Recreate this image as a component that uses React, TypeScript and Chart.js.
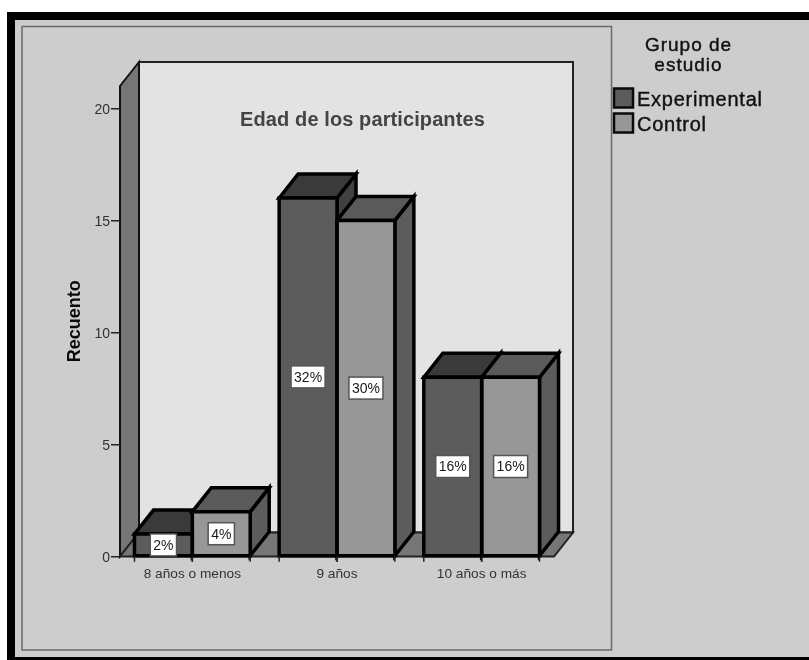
import React, { useEffect, useRef } from "react";
import { Chart, registerables } from "chart.js";

Chart.register(...registerables);

const categories = ["8 años o menos", "9 años", "10 años o más"];
const experimental = [1, 16, 8];
const control = [2, 15, 8];
const experimentalPct = ["2%", "32%", "16%"];
const controlPct = ["4%", "30%", "16%"];
const chartTitle = "Edad de los participantes";
const legendTitle = ["Grupo de", "estudio"];
const yTitle = "Recuento";

const FONT = '"Liberation Sans", Arial, sans-serif';
const DX = 19;
const DY = 24;
const faces = [
  { front: "#5c5c5c", top: "#3a3a3a", side: "#404040", labels: experimentalPct },
  { front: "#979797", top: "#5a5a5a", side: "#5c5c5c", labels: controlPct },
];

function poly(ctx: CanvasRenderingContext2D, pts: number[][], fill: string | null, stroke: string, lw: number) {
  ctx.beginPath();
  pts.forEach((p, i) => (i ? ctx.lineTo(p[0], p[1]) : ctx.moveTo(p[0], p[1])));
  ctx.closePath();
  if (fill) {
    ctx.fillStyle = fill;
    ctx.fill();
  }
  ctx.strokeStyle = stroke;
  ctx.lineWidth = lw;
  ctx.lineJoin = "miter";
  ctx.stroke();
}

const scene3d = {
  id: "scene3d",
  beforeDraw(chart: any) {
    const { ctx, width, height, chartArea: a } = chart;
    ctx.save();
    ctx.fillStyle = "#ffffff";
    ctx.fillRect(0, 0, width, height);
    ctx.fillStyle = "#000000";
    ctx.fillRect(7, 12, width - 7, height - 12);
    ctx.fillStyle = "#cdcdcd";
    ctx.fillRect(15, 20, width - 15, 637);
    ctx.strokeStyle = "#6a6a6a";
    ctx.lineWidth = 1.5;
    ctx.strokeRect(22, 26.5, 589.5, 623.5);

    const l = a.left, r = a.right, t = a.top, b = a.bottom;
    ctx.fillStyle = "#e3e3e3";
    ctx.fillRect(l + DX, t - DY, r - l, b - t);
    poly(ctx, [[l + DX, t - DY], [r + DX, t - DY], [r + DX, b - DY], [l + DX, b - DY]], null, "#222222", 2);
    poly(ctx, [[l, t], [l + DX, t - DY], [l + DX, b - DY], [l, b]], "#767676", "#111111", 2);
    poly(ctx, [[l, b], [l + DX, b - DY], [r + DX, b - DY], [r, b]], "#767676", "#222222", 2);
    ctx.restore();
  },
  beforeDatasetsDraw(chart: any) {
    const { ctx } = chart;
    ctx.save();
    categories.forEach((_, c) => {
      faces.forEach((f, d) => {
        const bar = chart.getDatasetMeta(d).data[c];
        const x0 = bar.x - bar.width / 2, x1 = bar.x + bar.width / 2;
        const y0 = bar.y, y1 = bar.base;
        poly(ctx, [[x1, y0], [x1 + DX, y0 - DY], [x1 + DX, y1 - DY], [x1, y1]], f.side, "#000000", 3.5);
        poly(ctx, [[x0, y0], [x0 + DX, y0 - DY], [x1 + DX, y0 - DY], [x1, y0]], f.top, "#000000", 3.5);
      });
    });
    ctx.restore();
  },
  afterDatasetsDraw(chart: any) {
    const { ctx } = chart;
    ctx.save();
    faces.forEach((f, d) => {
      chart.getDatasetMeta(d).data.forEach((bar: any) => {
        const x0 = bar.x - bar.width / 2, x1 = bar.x + bar.width / 2;
        poly(ctx, [[x0, bar.y], [x1, bar.y], [x1, bar.base], [x0, bar.base]], null, "#000000", 3.5);
        ctx.strokeStyle = "#222222";
        ctx.lineWidth = 1.5;
        ctx.beginPath();
        [x0, x1].forEach((x) => {
          ctx.moveTo(x, bar.base);
          ctx.lineTo(x, bar.base + 6);
        });
        ctx.stroke();
      });
    });
    faces.forEach((f, d) => {
      chart.getDatasetMeta(d).data.forEach((bar: any, c: number) => {
        const text = f.labels[c];
        const cy = (bar.y + bar.base) / 2;
        ctx.font = `14px ${FONT}`;
        const w = ctx.measureText(text).width + 6;
        const h = 22;
        ctx.fillStyle = "#ffffff";
        ctx.fillRect(bar.x - w / 2, cy - h / 2, w, h);
        ctx.strokeStyle = "#555555";
        ctx.lineWidth = 1.5;
        ctx.strokeRect(bar.x - w / 2, cy - h / 2, w, h);
        ctx.fillStyle = "#1a1a1a";
        ctx.textAlign = "center";
        ctx.textBaseline = "middle";
        ctx.fillText(text, bar.x, cy + 1);
      });
    });
    ctx.restore();
  },
  afterDraw(chart: any) {
    const { ctx } = chart;
    ctx.save();
    ctx.textBaseline = "middle";
    ctx.textAlign = "center";
    ctx.fillStyle = "#444444";
    ctx.font = `bold 20px ${FONT}`;
    ctx.letterSpacing = "0.1px";
    ctx.fillText(chartTitle, 362.5, 120);

    ctx.fillStyle = "#111111";
    ctx.strokeStyle = "#111111";
    ctx.font = `19px ${FONT}`;
    ctx.letterSpacing = "1px";
    ctx.lineWidth = 0.4;
    legendTitle.forEach((line, i) => {
      ctx.fillText(line, 688.5, 46 + i * 20);
      ctx.strokeText(line, 688.5, 46 + i * 20);
    });

    ctx.textAlign = "left";
    ctx.font = `20px ${FONT}`;
    ctx.letterSpacing = "0.75px";
    chart.data.datasets.forEach((ds: any, i: number) => {
      const y = 88.5 + i * 25;
      ctx.fillStyle = ds.backgroundColor;
      ctx.fillRect(614, y, 19, 19);
      ctx.strokeStyle = "#0a0a0a";
      ctx.lineWidth = 2.5;
      ctx.strokeRect(614, y, 19, 19);
      ctx.fillStyle = "#111111";
      ctx.fillText(ds.label, 637, y + 12);
      ctx.lineWidth = 0.4;
      ctx.strokeStyle = "#111111";
      ctx.strokeText(ds.label, 637, y + 12);
    });
    ctx.restore();
  },
};

export default function App() {
  const ref = useRef<HTMLCanvasElement | null>(null);
  useEffect(() => {
    const chart = new Chart(ref.current as HTMLCanvasElement, {
      type: "bar",
      data: {
        labels: categories,
        datasets: [
          { label: "Experimental", data: experimental, backgroundColor: faces[0].front, borderWidth: 0 },
          { label: "Control", data: control, backgroundColor: faces[1].front, borderWidth: 0 },
        ],
      },
      options: {
        responsive: false,
        animation: false,
        layout: { padding: { top: 86, right: 255, left: 0, bottom: 0 } },
        datasets: { bar: { categoryPercentage: 0.8, barPercentage: 1 } },
        plugins: { legend: { display: false }, title: { display: false }, tooltip: { enabled: false } },
        scales: {
          x: {
            grid: { display: false, drawTicks: false },
            border: { display: false },
            ticks: { color: "#333333", font: { family: FONT, size: 13.7 }, padding: 10, maxRotation: 0 },
            afterFit: (s: any) => {
              s.height = 103.5;
            },
          },
          y: {
            min: 0,
            max: 21,
            ticks: { stepSize: 5, color: "#333333", font: { family: FONT, size: 14 }, padding: 1, labelOffset: 2 },
            afterBuildTicks: (s: any) => {
              s.ticks = s.ticks.filter((t: any) => t.value % 5 === 0);
            },
            grid: { drawOnChartArea: false, tickLength: 9, color: "#222222", lineWidth: 1.5 },
            border: { display: false },
            title: {
              display: true,
              text: yTitle,
              color: "#0a0a0a",
              font: { family: FONT, size: 18, weight: "bold" },
              padding: { top: 64, bottom: 0 },
            },
            afterFit: (s: any) => {
              s.width = 120;
            },
          },
        },
      },
      plugins: [scene3d],
    } as any);
    return () => chart.destroy();
  }, []);
  return (
    <div style={{ position: "absolute", left: 0, top: 0 }}>
      <canvas ref={ref} width={809} height={660} style={{ display: "block" }} />
    </div>
  );
}
